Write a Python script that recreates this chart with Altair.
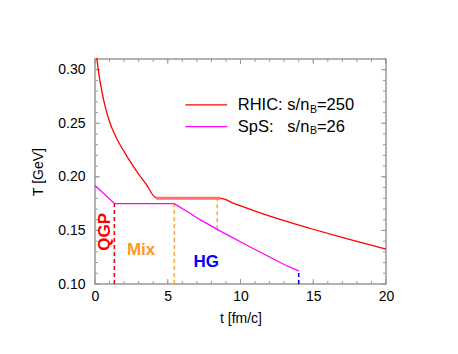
import altair as alt
import pandas as pd

FONT = "Liberation Sans"
W, H = 291, 225

# ---- data ----
rhic_t = [0.12, 0.3, 0.5, 0.75, 1.0, 1.5, 2.0, 2.5, 3.0, 3.5, 4.2, 8.6, 8.9, 9.3, 10.2, 12.5, 14.8, 17.1, 20.0]
rhic_T = [0.311, 0.293, 0.278, 0.263, 0.2515, 0.2355, 0.2235, 0.2125, 0.2025, 0.1935, 0.1805,
          0.180, 0.1793, 0.1767, 0.172, 0.1612, 0.1518, 0.143, 0.1325]

rhic_mix_t = [4.2, 8.6]
rhic_mix_T = [0.180, 0.180]

sps_t = [0.0, 1.35, 5.45, 6.5, 7.25, 8.4, 10.6, 13.1, 14.0]
sps_T = [0.192, 0.175, 0.175, 0.1662, 0.1598, 0.151, 0.135, 0.1175, 0.1122]

dash_t = [1.33, 5.45, 8.4, 14.0]
dash_lo = [0.10, 0.10, 0.151, 0.10]
dash_hi = [0.175, 0.175, 0.180, 0.1122]
dash_col = ["#ff0000", "#ffaa44", "#ffaa44", "#0000ff"]

phase_lbl = ["QGP", "Mix", "HG"]
phase_t = [0.71, 3.17, 7.65]
phase_T = [0.1487, 0.1322, 0.1206]
phase_col = ["#ff0000", "#ff9a1f", "#0000ff"]
phase_ang = [270, 0, 0]

leg_line_t = [6.21, 9.08]
leg_T = [0.2672, 0.2469]
leg_col = ["#ff0000", "#ff00ff"]

leg_a_txt = ["RHIC:", "SpS:"]
leg_a_t = [9.81, 9.81]
leg_b_txt = ["s/n", "s/n"]
leg_b_t = [14.73, 14.73]
leg_sub_txt = ["B", "B"]
leg_sub_t = [14.77, 14.77]
leg_sub_T = [0.2628, 0.2425]
leg_c_txt = ["=250", "=26"]
leg_c_t = [15.25, 15.25]

x_major = [0, 5, 10, 15, 20]
x_minor = list(range(0, 21))
y_major = [0.10, 0.15, 0.20, 0.25, 0.30]
y_minor = [round(0.10 + 0.01 * i, 2) for i in range(0, 22)]

# ---- scales / axes ----
xs = alt.Scale(domain=[0, 20], nice=False, zero=False)
ys = alt.Scale(domain=[0.10, 0.31], nice=False, zero=False)
xax = alt.Axis(values=x_major, title="t [fm/c]", labelFontSize=14, titleFontSize=14,
               titleFontWeight="normal", labelPadding=5, titlePadding=8, ticks=False,
               domain=False, grid=False, labelColor="black", titleColor="black",
               labelFont=FONT, titleFont=FONT, format="d", labelFlush=False)
yax = alt.Axis(values=y_major, title="T [GeV]", labelFontSize=14, titleFontSize=14,
               titleFontWeight="normal", labelPadding=10, titlePadding=12, ticks=False,
               domain=False, grid=False, labelColor="black", titleColor="black",
               labelFont=FONT, titleFont=FONT, format=".2f", labelFlush=False)

def X(f):
    return alt.X(f, type="quantitative", scale=xs, axis=xax)

def Y(f):
    return alt.Y(f, type="quantitative", scale=ys, axis=yax)

rhic_df = pd.DataFrame({"t": rhic_t, "T": rhic_T})
mix_df = pd.DataFrame({"t": rhic_mix_t, "T": rhic_mix_T})
sps_df = pd.DataFrame({"t": sps_t, "T": sps_T})
dash_df = pd.DataFrame({"t": dash_t, "lo": dash_lo, "hi": dash_hi, "c": dash_col})
phase_df = pd.DataFrame({"t": phase_t, "T": phase_T, "txt": phase_lbl, "c": phase_col, "a": phase_ang})

layers = []

# inward frame ticks
def tick_layers(vals, length, along):
    df = pd.DataFrame({"v": vals})
    out = []
    if along == "x":
        out.append(alt.Chart(df).mark_rule(color="#999999", strokeWidth=1).encode(
            x=X("v"), y=alt.value(H - length), y2=alt.value(H)))
        out.append(alt.Chart(df).mark_rule(color="#999999", strokeWidth=1).encode(
            x=X("v"), y=alt.value(0), y2=alt.value(length)))
    else:
        out.append(alt.Chart(df).mark_rule(color="#999999", strokeWidth=1).encode(
            y=Y("v"), x=alt.value(0), x2=alt.value(length)))
        out.append(alt.Chart(df).mark_rule(color="#999999", strokeWidth=1).encode(
            y=Y("v"), x=alt.value(W - length), x2=alt.value(W)))
    return out

layers += tick_layers(x_minor, 3, "x")
layers += tick_layers(x_major, 5, "x")
layers += tick_layers(y_minor, 3, "y")
layers += tick_layers(y_major, 5, "y")

# dashed phase boundaries
layers.append(alt.Chart(dash_df).mark_rule(strokeDash=[4, 3], strokeWidth=1.6).encode(
    x=X("t"), y=Y("lo"), y2="hi", color=alt.Color("c:N", scale=None)))

# curves
layers.append(alt.Chart(sps_df).mark_line(color="#ff00ff", strokeWidth=1.3).encode(
    x=X("t"), y=Y("T"), order="t:Q"))
layers.append(alt.Chart(rhic_df).mark_line(color="#ff0000", strokeWidth=1.3, interpolate="monotone").encode(
    x=X("t"), y=Y("T"), order="t:Q"))
layers.append(alt.Chart(mix_df).mark_line(color="#ff7070", strokeWidth=3).encode(
    x=X("t"), y=Y("T")))

# phase labels
layers.append(alt.Chart(phase_df).mark_text(font=FONT, fontSize=17, fontWeight="bold",
                                             align="center", baseline="middle").encode(
    x=X("t"), y=Y("T"), text="txt:N", color=alt.Color("c:N", scale=None), angle=alt.Angle("a:Q", scale=None)))

# legend
leg_line_df = pd.DataFrame({"t0": [leg_line_t[0]] * 2, "t1": [leg_line_t[1]] * 2, "T": leg_T, "c": leg_col})
layers.append(alt.Chart(leg_line_df).mark_rule(strokeWidth=1.3).encode(
    x=X("t0"), x2="t1", y=Y("T"), color=alt.Color("c:N", scale=None)))

la = pd.DataFrame({"t": leg_a_t, "T": leg_T, "txt": leg_a_txt})
lb = pd.DataFrame({"t": leg_b_t, "T": leg_T, "txt": leg_b_txt})
lsub = pd.DataFrame({"t": leg_sub_t, "T": leg_sub_T, "txt": leg_sub_txt})
lc = pd.DataFrame({"t": leg_c_t, "T": leg_T, "txt": leg_c_txt})
layers.append(alt.Chart(la).mark_text(font=FONT, fontSize=16.5, align="left", baseline="middle", color="black").encode(
    x=X("t"), y=Y("T"), text="txt:N"))
layers.append(alt.Chart(lb).mark_text(font=FONT, fontSize=16.5, align="right", baseline="middle", color="black").encode(
    x=X("t"), y=Y("T"), text="txt:N"))
layers.append(alt.Chart(lsub).mark_text(font=FONT, fontSize=10.5, align="left", baseline="middle", color="black").encode(
    x=X("t"), y=Y("T"), text="txt:N"))
layers.append(alt.Chart(lc).mark_text(font=FONT, fontSize=16.5, align="left", baseline="middle", color="black").encode(
    x=X("t"), y=Y("T"), text="txt:N"))

chart = alt.layer(*layers).properties(
    width=W, height=H,
    autosize=alt.AutoSizeParams(type="none"),
    padding={"left": 87, "top": 51, "right": 56, "bottom": 62},
    background="white",
).configure_view(stroke="#999999", strokeWidth=1.5)

chart.save("out.html", embed_options={"renderer": "svg", "actions": False})
